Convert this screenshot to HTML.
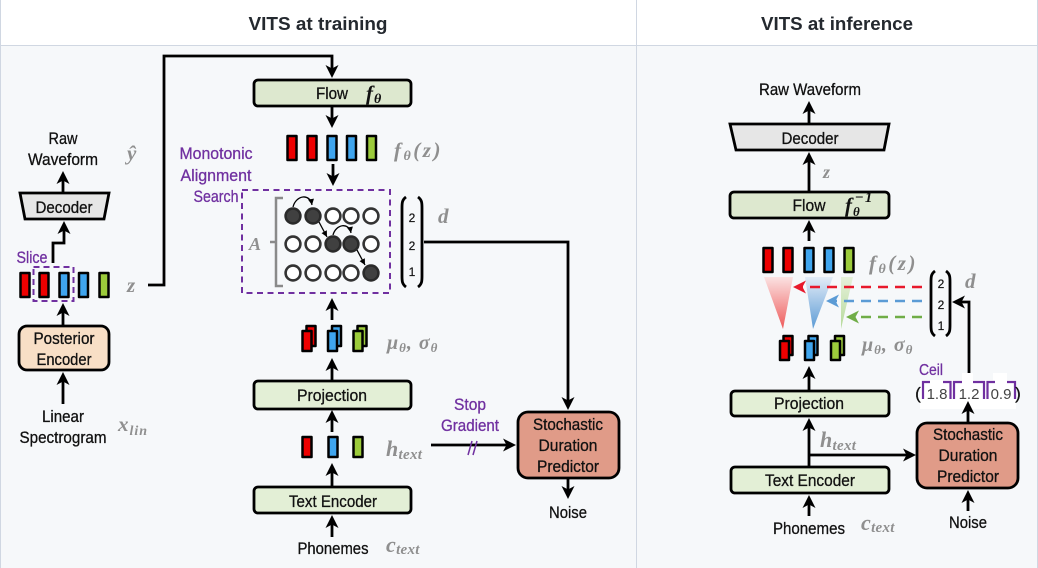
<!DOCTYPE html>
<html><head><meta charset="utf-8"><style>
html,body{margin:0;padding:0;width:1038px;height:568px;overflow:hidden;background:#fff}
svg{display:block}
text{font-family:"Liberation Sans",sans-serif;fill:#111;text-anchor:middle;font-size:17px;stroke:#111;stroke-width:.3}
.t{font-size:18px;font-weight:bold;fill:#24292f;stroke:none}
.p{fill:#7030a0;stroke:#7030a0}
.m{font-family:"Liberation Serif",serif;font-style:italic;font-weight:bold;fill:#8f8f8f;stroke:none;font-size:21px;text-anchor:start;letter-spacing:1px}
.s{font-size:12px;stroke-width:.2}
.a{fill:none;stroke:#000;stroke-width:2.8;marker-end:url(#h)}
.b{stroke:#000;stroke-width:2.5;stroke-linejoin:round}
.r{fill:#ee0000}.u{fill:#3fa5ee}.g{fill:#9ccb3b}
.w{fill:#fff;stroke:#333;stroke-width:2.6}.k{fill:#404040;stroke:#2a2a2a;stroke-width:2.6}
</style></head><body>
<svg width="1038" height="568" viewBox="0 0 1038 568" xmlns="http://www.w3.org/2000/svg">
<defs>
<marker id="h" markerUnits="userSpaceOnUse" markerWidth="18" markerHeight="16" refX="10" refY="8" orient="auto"><path d="M0,1.5 L13,8 L0,14.500 L3.500,8z" fill="#000"/></marker>
<marker id="hs" markerUnits="userSpaceOnUse" markerWidth="8" markerHeight="8" refX="7" refY="4" orient="auto"><path d="M1,1 L7,4 L1,7z" fill="#000"/></marker>
<marker id="hr" markerUnits="userSpaceOnUse" markerWidth="18" markerHeight="16" refX="10" refY="8" orient="auto"><path d="M0,1.5 L13,8 L0,14.500 L3.500,8z" fill="#e8192c"/></marker>
<marker id="hb" markerUnits="userSpaceOnUse" markerWidth="18" markerHeight="16" refX="10" refY="8" orient="auto"><path d="M0,1.5 L13,8 L0,14.500 L3.500,8z" fill="#5b9bd5"/></marker>
<marker id="hg" markerUnits="userSpaceOnUse" markerWidth="18" markerHeight="16" refX="10" refY="8" orient="auto"><path d="M0,1.5 L13,8 L0,14.500 L3.500,8z" fill="#70ad47"/></marker>
<linearGradient id="gr" x1="0" y1="0" x2="0" y2="1"><stop offset="0" stop-color="#fbe2e2"/><stop offset="1" stop-color="#ee5a5a"/></linearGradient>
<linearGradient id="gb" x1="0" y1="0" x2="0" y2="1"><stop offset="0" stop-color="#e3ecf7"/><stop offset="1" stop-color="#5b9bd5"/></linearGradient>
<linearGradient id="gg" x1="0" y1="0" x2="0" y2="1"><stop offset="0" stop-color="#e6f1da"/><stop offset="1" stop-color="#b5d99a"/></linearGradient>
</defs>

<rect x="0" y="45" width="1038" height="523" fill="#f6f8fa"/>
<path d="M0,45.5H1038M0.5,0V568M636.5,0V568M1037.5,0V568" stroke="#d0d7e2" fill="none"/>
<text class="t" x="318" y="30" textLength="139" lengthAdjust="spacingAndGlyphs">VITS at training</text>
<text class="t" x="837" y="30" textLength="152" lengthAdjust="spacingAndGlyphs">VITS at inference</text>

<g style="filter:blur(.35px)">
<!-- LEFT COLUMN -->
<text x="63" y="144" textLength="29" lengthAdjust="spacingAndGlyphs">Raw</text>
<text x="63" y="165" textLength="70" lengthAdjust="spacingAndGlyphs">Waveform</text>
<text class="m" x="127" y="160">ŷ</text>
<path class="a" d="M63,193V174"/>
<path d="M20,193H109L104,219H25Z" fill="#e6e6e6" stroke="#000" stroke-width="2.800"/>
<text x="64" y="213" textLength="57" lengthAdjust="spacingAndGlyphs">Decoder</text>
<path class="a" d="M53,263V243H64V224"/>
<text class="p" x="32" y="263" textLength="31" lengthAdjust="spacingAndGlyphs">Slice</text>
<g class="b">
<rect class="r" x="20.500" y="273" width="9" height="24"/><rect class="r" x="39.500" y="273" width="9" height="24"/><rect class="u" x="59.500" y="273" width="9" height="24"/><rect class="u" x="79" y="273" width="9" height="24"/><rect class="g" x="99.500" y="273" width="9" height="24"/>
</g>
<rect x="33.500" y="267" width="40" height="34" fill="none" stroke="#7030a0" stroke-width="2" stroke-dasharray="6 4"/>
<text class="m" x="127" y="292">z</text>
<path class="a" d="M63,325V306"/>
<rect x="19" y="326" width="90" height="44" rx="8" fill="#f8dfc6" stroke="#000" stroke-width="2.800"/>
<text x="64" y="344" textLength="61" lengthAdjust="spacingAndGlyphs">Posterior</text>
<text x="64" y="365" textLength="55" lengthAdjust="spacingAndGlyphs">Encoder</text>
<path class="a" d="M63,404V375"/>
<text x="63" y="422" textLength="42" lengthAdjust="spacingAndGlyphs">Linear</text>
<text x="63" y="443" textLength="87" lengthAdjust="spacingAndGlyphs">Spectrogram</text>
<text class="m" x="118" y="431">x<tspan dy="4" font-size="14">lin</tspan></text>

<!-- MIDDLE COLUMN -->
<path class="a" d="M148,285H164V56H332V75"/>
<rect x="254" y="80" width="157" height="26" rx="4" fill="#dde8cf" stroke="#000" stroke-width="2.800"/>
<text x="332" y="99" textLength="32" lengthAdjust="spacingAndGlyphs">Flow</text>
<text class="m" x="366" y="100" style="fill:#111">f<tspan dy="3" font-size="14">θ</tspan></text>
<path class="a" d="M332,107V125"/>
<g class="b">
<rect class="r" x="287.500" y="136" width="9" height="24"/><rect class="r" x="307.500" y="136" width="9" height="24"/><rect class="u" x="327.500" y="136" width="9" height="24"/><rect class="u" x="347" y="136" width="9" height="24"/><rect class="g" x="367" y="136" width="9" height="24"/>
</g>
<text class="m" x="394" y="157" style="letter-spacing:2.500px">f<tspan dy="3" font-size="14">θ</tspan><tspan dy="-3">(z)</tspan></text>
<path class="a" d="M333,164V183"/>
<text class="p" x="216" y="159" textLength="73" lengthAdjust="spacingAndGlyphs">Monotonic</text>
<text class="p" x="216" y="181" textLength="71" lengthAdjust="spacingAndGlyphs">Alignment</text>
<text class="p" x="216" y="202" textLength="45" lengthAdjust="spacingAndGlyphs">Search</text>
<rect x="242" y="190" width="148" height="103" fill="none" stroke="#7030a0" stroke-width="2" stroke-dasharray="6 4.500"/>
<text class="m" x="249" y="250" style="font-size:18px">A</text>
<path d="M283,198H276V286H283M276,242H270" fill="none" stroke="#8a8a8a" stroke-width="2.500"/>
<circle class="k" cx="293" cy="216" r="7.400"/><circle class="k" cx="313" cy="216" r="7.400"/><circle class="w" cx="333" cy="216" r="7.400"/><circle class="w" cx="351" cy="216" r="7.400"/><circle class="w" cx="371" cy="216" r="7.400"/>
<circle class="w" cx="293" cy="244" r="7.400"/><circle class="w" cx="313" cy="244" r="7.400"/><circle class="k" cx="333" cy="244" r="7.400"/><circle class="k" cx="351" cy="244" r="7.400"/><circle class="w" cx="371" cy="244" r="7.400"/>
<circle class="w" cx="293" cy="273" r="7.400"/><circle class="w" cx="313" cy="273" r="7.400"/><circle class="w" cx="333" cy="273" r="7.400"/><circle class="w" cx="351" cy="273" r="7.400"/><circle class="k" cx="371" cy="273" r="7.400"/>
<g fill="none" stroke="#000" stroke-width="1.300" marker-end="url(#hs)">
<path d="M293,207C296,195 310,193 312,205"/><path d="M319,222L327,237"/><path d="M333,235C336,224 349,222 351,233"/><path d="M357,250L365,265"/>
</g>
<path d="M406,197C402,200 402,203 402,208V276C402,281 402,284 406,287M418,197C422,200 422,203 422,208V276C422,281 422,284 418,287" fill="none" stroke="#000" stroke-width="2.800"/>
<text class="s" x="412" y="222">2</text><text class="s" x="412" y="250">2</text><text class="s" x="412" y="276">1</text>
<text class="m" x="438" y="223">d</text>
<path d="M424,242H568V407" class="a"/>
<path class="a" d="M332,320V301"/>
<g class="b">
<rect class="r" x="306.500" y="326" width="9" height="20"/><rect class="r" x="302.500" y="331" width="9" height="20"/>
<rect class="u" x="332" y="326" width="9" height="20"/><rect class="u" x="328" y="331" width="9" height="20"/>
<rect class="g" x="357.500" y="326" width="9" height="20"/><rect class="g" x="353.500" y="331" width="9" height="20"/>
</g>
<text class="m" x="387" y="349" style="font-size:20px">μ<tspan dy="3" font-size="13">θ</tspan><tspan dy="-3">, σ</tspan><tspan dy="3" font-size="13">θ</tspan></text>
<path class="a" d="M332,380V361"/>
<rect x="254" y="381" width="157" height="28" rx="4" fill="#e3efd6" stroke="#000" stroke-width="2.800"/>
<text x="332" y="401" textLength="70" lengthAdjust="spacingAndGlyphs">Projection</text>
<path class="a" d="M332,432V413"/>
<g class="b"><rect class="r" x="302.500" y="437" width="9" height="20"/><rect class="u" x="328.500" y="437" width="9" height="20"/><rect class="g" x="353.500" y="437" width="9" height="20"/></g>
<text class="m" x="386" y="456" style="font-size:22px;letter-spacing:.3px">h<tspan dy="3" font-size="15">text</tspan></text>
<path class="a" d="M431,445H513"/>
<text class="p" x="470" y="410" textLength="32" lengthAdjust="spacingAndGlyphs">Stop</text>
<text class="p" x="470" y="431" textLength="58" lengthAdjust="spacingAndGlyphs">Gradient</text>
<path d="M468,455L472,441M473,455L477,441" stroke="#7030a0" stroke-width="1.500" fill="none"/>
<path class="a" d="M332,486V466"/>
<rect x="254" y="487" width="157" height="26" rx="4" fill="#e3efd6" stroke="#000" stroke-width="2.800"/>
<text x="333" y="507" textLength="88" lengthAdjust="spacingAndGlyphs">Text Encoder</text>
<path class="a" d="M332,537V518"/>
<text x="333" y="554" textLength="71" lengthAdjust="spacingAndGlyphs">Phonemes</text>
<text class="m" x="386" y="552" style="font-size:22px;letter-spacing:.3px">c<tspan dy="2" font-size="15">text</tspan></text>
<rect x="518" y="412" width="101" height="66" rx="10" fill="#e09b88" stroke="#000" stroke-width="2.800"/>
<text x="568" y="430" textLength="70" lengthAdjust="spacingAndGlyphs">Stochastic</text>
<text x="568" y="451" textLength="59" lengthAdjust="spacingAndGlyphs">Duration</text>
<text x="568" y="472" textLength="62" lengthAdjust="spacingAndGlyphs">Predictor</text>
<path class="a" d="M568,478V496"/>
<text x="568" y="518" textLength="38" lengthAdjust="spacingAndGlyphs">Noise</text>

<!-- RIGHT PANEL -->
<text x="810" y="95" textLength="102" lengthAdjust="spacingAndGlyphs">Raw Waveform</text>
<path class="a" d="M809,124V104"/>
<path d="M730,124H889L884,150H736Z" fill="#e6e6e6" stroke="#000" stroke-width="2.800"/>
<text x="810" y="144" textLength="57" lengthAdjust="spacingAndGlyphs">Decoder</text>
<path class="a" d="M809,192V155"/>
<text class="m" x="823" y="178" style="font-size:18px">z</text>
<rect x="730" y="192" width="159" height="26" rx="4" fill="#dde8cf" stroke="#000" stroke-width="2.800"/>
<text x="809" y="211" textLength="33" lengthAdjust="spacingAndGlyphs">Flow</text>
<text class="m" x="845" y="212" style="fill:#111">f<tspan dy="4" font-size="13">θ</tspan><tspan dy="-14" dx="-6" font-size="15">−1</tspan></text>
<path class="a" d="M809,241V223"/>
<g class="b">
<rect class="r" x="763.500" y="248" width="9" height="24"/><rect class="r" x="783.500" y="248" width="9" height="24"/><rect class="u" x="804.500" y="248" width="9" height="24"/><rect class="u" x="824.500" y="248" width="9" height="24"/><rect class="g" x="844.500" y="248" width="9" height="24"/>
</g>
<text class="m" x="869" y="270" style="letter-spacing:2.500px">f<tspan dy="3" font-size="14">θ</tspan><tspan dy="-3">(z)</tspan></text>
<path d="M764,277H793L783,329Z" fill="url(#gr)"/>
<path d="M805,277H833L813,329Z" fill="url(#gb)"/>
<path d="M841,277H853L841,329Z" fill="url(#gg)"/>
<path d="M922,287H796" fill="none" stroke="#e8192c" stroke-width="2.500" stroke-dasharray="10 7" marker-end="url(#hr)"/>
<path d="M922,301H829" fill="none" stroke="#5b9bd5" stroke-width="2.500" stroke-dasharray="10 7" marker-end="url(#hb)"/>
<path d="M922,317H849" fill="none" stroke="#70ad47" stroke-width="2.500" stroke-dasharray="10 7" marker-end="url(#hg)"/>
<path d="M935,271C931,274 931,277 931,282V325C931,330 931,333 935,336M946,271C950,274 950,277 950,282V325C950,330 950,333 946,336" fill="none" stroke="#000" stroke-width="2.800"/>
<text class="s" x="941" y="288">2</text><text class="s" x="941" y="309">2</text><text class="s" x="941" y="330">1</text>
<text class="m" x="965" y="288">d</text>
<path class="a" d="M969,376V302H955"/>
<g class="b">
<rect class="r" x="783.500" y="336" width="9" height="19"/><rect class="r" x="780" y="341" width="9" height="19"/>
<rect class="u" x="808.500" y="336" width="9" height="19"/><rect class="u" x="805" y="341" width="9" height="19"/>
<rect class="g" x="835" y="336" width="9" height="19"/><rect class="g" x="831" y="341" width="9" height="19"/>
</g>
<text class="m" x="862" y="351" style="font-size:20px">μ<tspan dy="3" font-size="13">θ</tspan><tspan dy="-3">, σ</tspan><tspan dy="3" font-size="13">θ</tspan></text>
<path class="a" d="M809,390V369"/>
<rect x="731" y="391" width="158" height="25" rx="4" fill="#e3efd6" stroke="#000" stroke-width="2.800"/>
<text x="809" y="409" textLength="70" lengthAdjust="spacingAndGlyphs">Projection</text>
<path class="a" d="M809,466V421"/>
<text class="m" x="820" y="447" style="font-size:22px;letter-spacing:.3px">h<tspan dy="3" font-size="15">text</tspan></text>
<path class="a" d="M809,455H913"/>
<rect x="731" y="467" width="158" height="26" rx="4" fill="#e3efd6" stroke="#000" stroke-width="2.800"/>
<text x="810" y="486" textLength="90" lengthAdjust="spacingAndGlyphs">Text Encoder</text>
<path class="a" d="M809,516V498"/>
<text x="809" y="534" textLength="72" lengthAdjust="spacingAndGlyphs">Phonemes</text>
<text class="m" x="861" y="530" style="font-size:22px;letter-spacing:.3px">c<tspan dy="2" font-size="15">text</tspan></text>

<rect x="917" y="423" width="101" height="65" rx="10" fill="#e09b88" stroke="#000" stroke-width="2.800"/>
<text x="968" y="440" textLength="70" lengthAdjust="spacingAndGlyphs">Stochastic</text>
<text x="968" y="461" textLength="59" lengthAdjust="spacingAndGlyphs">Duration</text>
<text x="968" y="482" textLength="62" lengthAdjust="spacingAndGlyphs">Predictor</text>
<path class="a" d="M968,511V493"/>
<text x="968" y="528" textLength="38" lengthAdjust="spacingAndGlyphs">Noise</text>

<text class="p" x="931" y="375" textLength="24" lengthAdjust="spacingAndGlyphs" style="font-size:16px">Ceil</text>
<path d="M920,380H962V373H973V380H993V373H1007V380H1016V409H920Z" fill="#fff"/>
<path d="M923,399V382H930M943,382H950.500V399M954,399V382H962M973,382H984V399M987.500,399V382H995M1007,382H1015V399" fill="none" stroke="#7030a0" stroke-width="2.200"/>
<text x="937" y="399" style="font-size:15px;fill:#444;stroke:none">1.8</text>
<text x="969" y="399" style="font-size:15px;fill:#444;stroke:none">1.2</text>
<text x="1001" y="399" style="font-size:15px;fill:#444;stroke:none">0.9</text>
<text x="918" y="399" style="font-size:17px">(</text>
<text x="1018" y="399" style="font-size:17px">)</text>
<path class="a" d="M968,423V404"/>
</g>
</svg>
</body></html>
